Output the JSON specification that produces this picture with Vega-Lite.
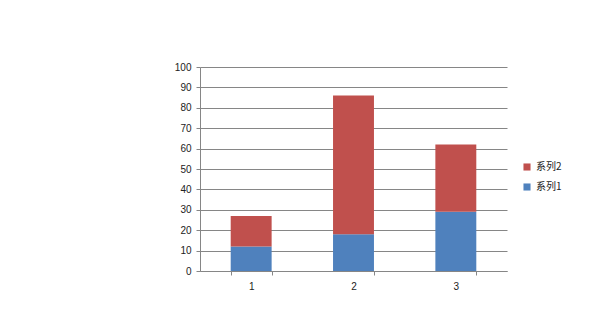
{
  "$schema": "https://vega.github.io/schema/vega-lite/v6.json",
  "autosize": {"type": "none"},
  "width": 307,
  "height": 204,
  "padding": {"left": 200, "top": 67, "right": 93, "bottom": 64},
  "background": "white",
  "config": {
    "font": "Liberation Sans",
    "view": {"stroke": null}
  },
  "data": {
    "values": [
      {"category": "1", "series": "系列1", "s": 1, "value": 12},
      {"category": "2", "series": "系列1", "s": 1, "value": 18},
      {"category": "3", "series": "系列1", "s": 1, "value": 29},
      {"category": "1", "series": "系列2", "s": 2, "value": 15},
      {"category": "2", "series": "系列2", "s": 2, "value": 68},
      {"category": "3", "series": "系列2", "s": 2, "value": 33}
    ]
  },
  "mark": {"type": "bar"},
  "encoding": {
    "x": {
      "field": "category",
      "type": "nominal",
      "scale": {"paddingInner": 0.6, "paddingOuter": 0.3},
      "axis": {
        "title": null,
        "labelAngle": 0,
        "labelFontSize": 10,
        "labelColor": "#222222",
        "labelPadding": 6,
        "domainColor": "#868686",
        "tickColor": "#868686",
        "tickBand": "extent",
        "tickSize": 4,
        "grid": false
      }
    },
    "y": {
      "field": "value",
      "type": "quantitative",
      "stack": "zero",
      "scale": {"domain": [0, 100], "nice": false},
      "axis": {
        "title": null,
        "values": [0, 10, 20, 30, 40, 50, 60, 70, 80, 90, 100],
        "labelFontSize": 10,
        "labelColor": "#222222",
        "labelPadding": 5,
        "domainColor": "#868686",
        "tickColor": "#868686",
        "tickSize": 4,
        "grid": true,
        "gridColor": "#868686",
        "gridWidth": 1
      }
    },
    "color": {
      "field": "series",
      "type": "nominal",
      "scale": {"domain": ["系列2", "系列1"], "range": ["#C0504D", "#4F81BD"]},
      "legend": {
        "title": null,
        "orient": "none",
        "legendX": 322,
        "legendY": 95,
        "symbolType": "square",
        "symbolSize": 50,
        "symbolStrokeWidth": 0,
        "labelFont": "Noto Sans CJK SC",
        "labelFontSize": 10,
        "labelColor": "#222222",
        "rowPadding": 10,
        "labelOffset": 4
      }
    },
    "order": {"field": "s", "type": "quantitative", "sort": "ascending"}
  }
}
